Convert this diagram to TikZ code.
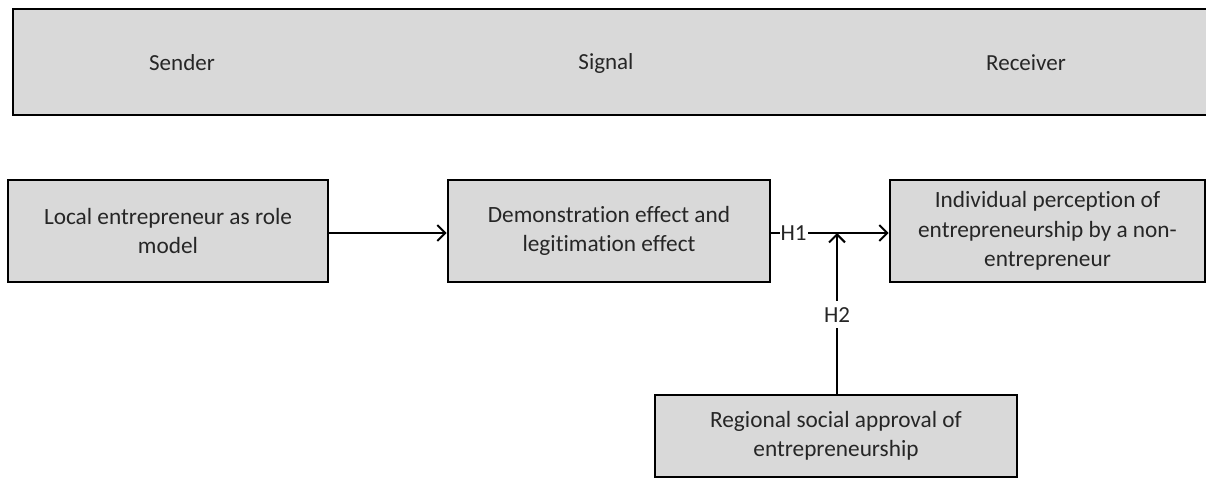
\documentclass[tikz,border=0pt]{standalone}
\usepackage{fontspec}
\setmainfont{Carlito}[Ligatures=NoCommon]
\usetikzlibrary{arrows.meta}
\definecolor{boxgray}{HTML}{D9D9D9}
\definecolor{txt}{HTML}{262626}
\begin{document}
\begin{tikzpicture}[x=1pt,y=-1pt,
  box/.style={draw=black,line width=2.6pt,fill=boxgray,rectangle,align=center,
    text=txt,font=\fontsize{23.3}{29.5}\selectfont,inner sep=0pt},
  head/.style={text=txt,font=\fontsize{23}{26}\selectfont},
  conn/.style={line width=2pt,-{Straight Barb[length=8pt,width=16pt,line width=2pt]}},
  lab/.style={fill=white,text=txt,font=\fontsize{23}{26}\selectfont,inner sep=1pt}]
\useasboundingbox (0,0) rectangle (1206,479);
\node[box,minimum width=1206pt,minimum height=106pt] (top) at (616,62) {};
\node[head] (sender) at (182,63) {Sender};
\node[head] (signal) at (606,63) {Signal};
\node[head] (receiver) at (1026,63) {Receiver};
\node[box,minimum width=320pt,minimum height=102pt] (b1) at (168,231)
  {Local entrepreneur as role\\model};
\node[box,minimum width=322pt,minimum height=102pt] (b2) at (609,231)
  {Demonstration effect and\\legitimation effect};
\node[box,minimum width=315pt,minimum height=102pt] (b3) at (1047.5,231)
  {Individual perception of\\entrepreneurship by a non-\\entrepreneur};
\node[box,minimum width=362pt,minimum height=82pt] (b4) at (836,436)
  {Regional social approval of\\entrepreneurship};
\coordinate (j) at (837,233);
\draw[conn] (b1.east |- 0,233) -- (b2.west |- 0,233);
\draw[conn] (b2.east |- 0,233) -- node[lab,pos=0.19] (h1) {H1} (b3.west |- 0,233);
\draw[conn] (j |- b4.north) -- node[lab,pos=0.49,inner ysep=6pt] (h2) {H2} (j);
\end{tikzpicture}
\end{document}
